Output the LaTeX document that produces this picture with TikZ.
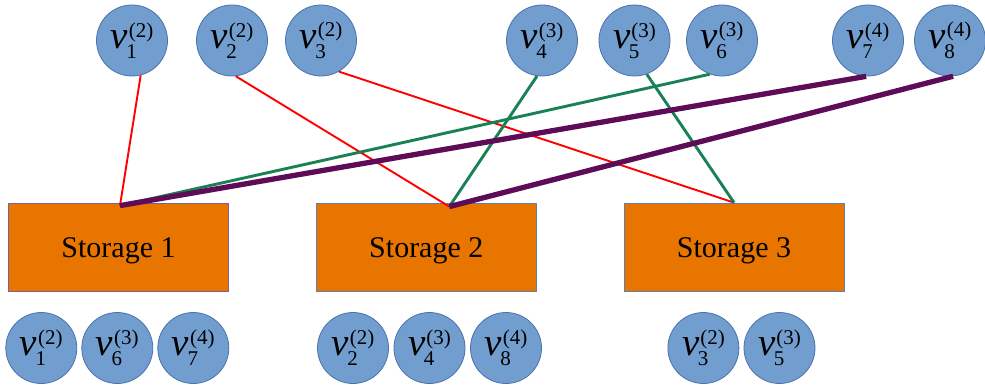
\documentclass[tikz,border=0pt]{standalone}
\usepackage{fontspec}
\setmainfont{Liberation Serif}[Ligatures=TeX]
\newfontfamily\timesfont{Liberation Serif}
\usetikzlibrary{calc}
\definecolor{nodefill}{HTML}{729ECF}
\definecolor{nodeedge}{HTML}{4A72AC}
\definecolor{boxfill}{HTML}{E87500}
\definecolor{boxedge}{HTML}{5F7FB4}
\definecolor{boxedgeA}{HTML}{7E5E9C}
\definecolor{lred}{HTML}{FF0000}
\definecolor{lgreen}{HTML}{1A8055}
\definecolor{lpurple}{HTML}{5E0C58}
\newcommand{\vlab}[2]{\timesfont\fontsize{39}{39}\selectfont\textit{v}\kern-1.5pt\raisebox{-10pt}{\fontsize{21}{24}\selectfont\shortstack[l]{\kern2.5pt(#2)\\#1}}}
\tikzset{
  vnode/.style={circle, draw=nodeedge, line width=0.8pt, fill=nodefill, minimum size=71pt, inner sep=0pt},
  storebox/.style={rectangle, draw=boxedge, line width=0.8pt, fill=boxfill, minimum width=220pt, minimum height=88pt, inner sep=0pt, text height=20pt, text depth=0pt, font=\timesfont\fontsize{30}{30}\selectfont},
  redline/.style={draw=lred, line width=1.9pt},
  greenline/.style={draw=lgreen, line width=2.9pt},
  purpleline/.style={draw=lpurple, line width=5.3pt},
}
\begin{document}
\begin{tikzpicture}[x=1pt,y=-1pt]
\useasboundingbox (0,0) rectangle (985,385);
% top nodes
\node[vnode] (v1) at (132,40.5) {\vlab{1}{2}};
\node[vnode] (v2) at (232,40.5) {\vlab{2}{2}};
\node[vnode] (v3) at (321,40.5) {\vlab{3}{2}};
\node[vnode] (v4) at (542,40.5) {\vlab{4}{3}};
\node[vnode] (v5) at (634.5,40.5) {\vlab{5}{3}};
\node[vnode] (v6) at (722,40.5) {\vlab{6}{3}};
\node[vnode] (v7) at (868,40.5) {\vlab{7}{4}};
\node[vnode] (v8) at (950,40.5) {\vlab{8}{4}};
% storage boxes
\node[storebox, draw=boxedgeA] (s1) at (118.5,247) {Storage 1};
\node[storebox] (s2) at (426.3,247) {Storage 2};
\node[storebox] (s3) at (734,247) {Storage 3};
% bottom nodes
\node[vnode] (b11) at (41.3,348) {\vlab{1}{2}};
\node[vnode] (b16) at (117.3,348) {\vlab{6}{3}};
\node[vnode] (b17) at (193.3,348) {\vlab{7}{4}};
\node[vnode] (b22) at (353,348) {\vlab{2}{2}};
\node[vnode] (b24) at (429.5,348) {\vlab{4}{3}};
\node[vnode] (b28) at (506,348) {\vlab{8}{4}};
\node[vnode] (b33) at (703.4,348) {\vlab{3}{2}};
\node[vnode] (b35) at (779.5,348) {\vlab{5}{3}};
% connection points
\coordinate (s1p) at ($(s1.north)+(1.5,3)$);
\coordinate (s2p) at ($(s2.north)+(23,4)$);
\coordinate (s3p) at (s3.north);
% connectors
\draw[redline] (v1.-76) -- (s1p);
\draw[redline] (v2.-84) -- (s2p);
\draw[redline] (v3.-60) -- (s3p);
\draw[greenline] (v4.-98) -- (s2p);
\draw[greenline] (v5.-70) -- (s3p);
\draw[greenline] (v6.-110) -- (s1p);
\draw[purpleline] (v7.-93) -- (s1p);
\draw[purpleline] (v8.-85) -- (s2p);
\end{tikzpicture}
\end{document}
